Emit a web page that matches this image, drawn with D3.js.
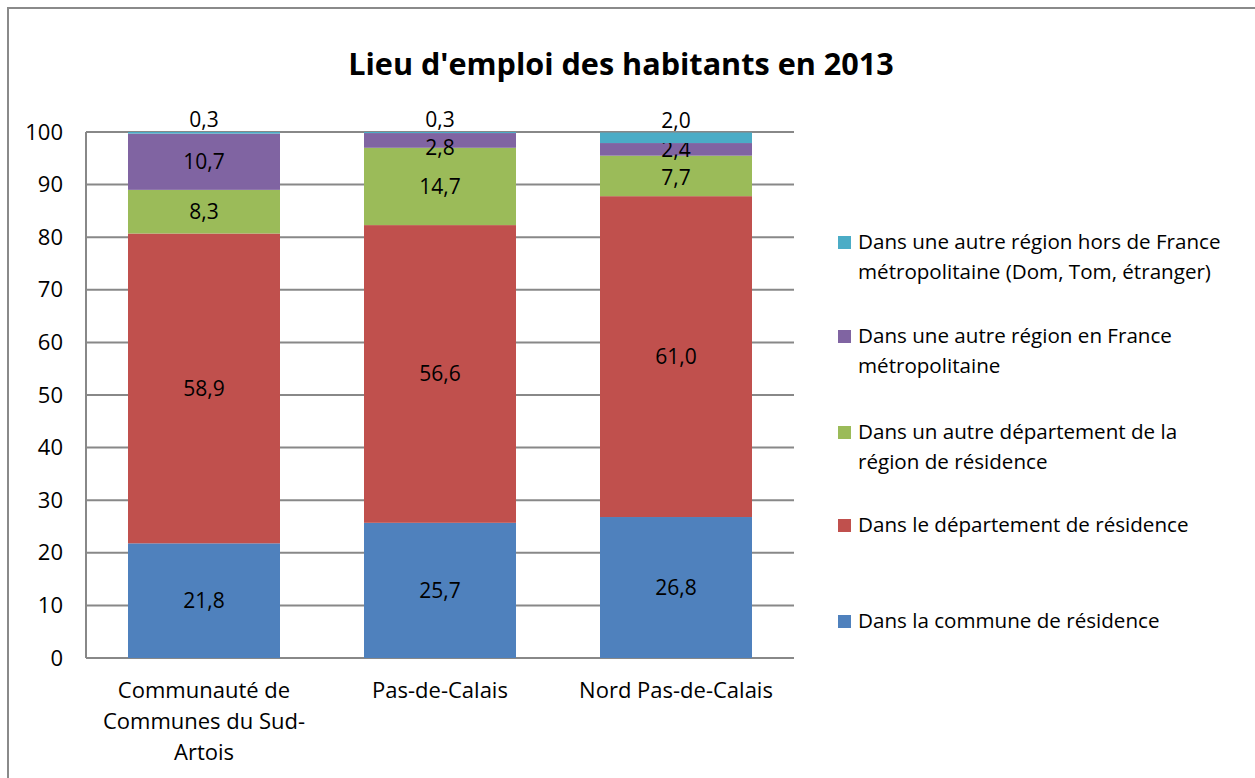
<!DOCTYPE html>
<html><head><meta charset="utf-8">
<script src="https://cdn.jsdelivr.net/npm/d3@7"></script>
<style>body{margin:0;background:#fff;} svg{display:block;} text{font-family:"Open Sans",sans-serif;fill:#000;}</style>
</head><body>
<svg id="c" width="1255" height="778"></svg>
<script>
const categories = [["Communauté de","Communes du Sud-","Artois"],["Pas-de-Calais"],["Nord Pas-de-Calais"]];
const seriesNames = [
  ["Dans la commune de résidence"],
  ["Dans le département de résidence"],
  ["Dans un autre département de la","région de résidence"],
  ["Dans une autre région en France","métropolitaine"],
  ["Dans une autre région hors de France","métropolitaine (Dom, Tom, étranger)"]
];
const communeVals = [21.8, 25.7, 26.8];
const departementVals = [58.9, 56.6, 61.0];
const autreDeptVals = [8.3, 14.7, 7.7];
const autreRegionVals = [10.7, 2.8, 2.4];
const horsFranceVals = [0.3, 0.3, 2.0];
const yTicks = [0,10,20,30,40,50,60,70,80,90,100];
const colors = ["#4F81BD","#C0504D","#9BBB59","#8064A2","#4BACC6"];
const title = "Lieu d'emploi des habitants en 2013";

(function(){
const series = [communeVals, departementVals, autreDeptVals, autreRegionVals, horsFranceVals];
const svg = d3.select("#c");
svg.append("rect").attr("x",8).attr("y",8).attr("width",1270).attr("height",800)
  .attr("fill","none").attr("stroke","#8a8a8a").attr("stroke-width",2);

const pL=86, pR=794, pT=132, pB=658;
const x = d3.scaleBand().domain(d3.range(categories.length)).range([pL,pR]).paddingInner(0.356).paddingOuter(0.178);
const y = d3.scaleLinear().domain([0,100]).range([pB,pT]);

svg.append("text").attr("x",621).attr("y",75).attr("text-anchor","middle")
  .style("font-size","30.6px").style("font-weight","bold").text(title);

svg.append("g").selectAll("line").data(yTicks).join("line")
  .attr("x1",pL).attr("x2",pR).attr("y1",d=>y(d)).attr("y2",d=>y(d))
  .attr("stroke","#888").attr("stroke-width",2);
svg.append("line").attr("x1",pL).attr("x2",pL).attr("y1",pT).attr("y2",pB)
  .attr("stroke","#888").attr("stroke-width",2);

const yAxis = d3.axisLeft(y).tickValues(yTicks).tickSize(0).tickPadding(23).tickFormat(d3.format("d"));
const ga = svg.append("g").attr("transform",`translate(${pL},0)`).call(yAxis);
ga.select(".domain").remove();
ga.selectAll("text").style("font-size","22px").style("font-family","'Open Sans',sans-serif").attr("fill","#000");

const table = categories.map((c,i)=>{const o={i}; series.forEach((s,k)=>o["s"+k]=s[i]); return o;});
const stack = d3.stack().keys(series.map((s,k)=>"s"+k))(table);
const fmt = v => d3.format(".1f")(v).replace(".",",");

const labelY = {};
categories.forEach((c,i)=>{
  const ys = stack.map((layer,k)=>{
    const d = layer[i];
    return k===stack.length-1 ? y(Math.min(d[1],100))-12 : y((d[0]+d[1])/2);
  });
  const minGap = 28;
  for(let k=stack.length-2;k>=0;k--){
    if(ys[k] - ys[k+1] < minGap) ys[k] = ys[k+1] + minGap;
  }
  labelY[i]=ys;
});

stack.forEach((layer,k)=>{
  const g = svg.append("g");
  g.selectAll("rect").data(layer).join("rect")
    .attr("x",d=>x(d.data.i)).attr("width",x.bandwidth())
    .attr("y",d=>y(Math.min(d[1],100))).attr("height",d=>y(d[0])-y(Math.min(d[1],100)))
    .attr("fill",colors[k]);
  g.selectAll("text").data(layer).join("text")
    .attr("x",d=>x(d.data.i)+x.bandwidth()/2)
    .attr("y",d=>labelY[d.data.i][k])
    .attr("dy","0.35em").attr("text-anchor","middle").style("font-size","21px")
    .text(d=>fmt(d[1]-d[0]));
});

categories.forEach((lines,i)=>{
  const cx = x(i)+x.bandwidth()/2;
  const t = svg.append("text").attr("x",cx).attr("y",698).attr("text-anchor","middle").style("font-size","22px");
  lines.forEach((l,j)=>t.append("tspan").attr("x",cx).attr("dy",j?31:0).text(l));
});

const legendY = [242,336,432,525,621];
const order = [4,3,2,1,0];
order.forEach((k,n)=>{
  const yy = legendY[n];
  svg.append("rect").attr("x",838).attr("y",yy-6).attr("width",13).attr("height",13).attr("fill",colors[k]);
  const t = svg.append("text").attr("x",858).attr("y",yy).style("font-size","20.6px");
  seriesNames[k].forEach((l,j)=>t.append("tspan").attr("x",858).attr("dy",j?30:"0.35em").text(l));
});
})();
</script>
</body></html>
